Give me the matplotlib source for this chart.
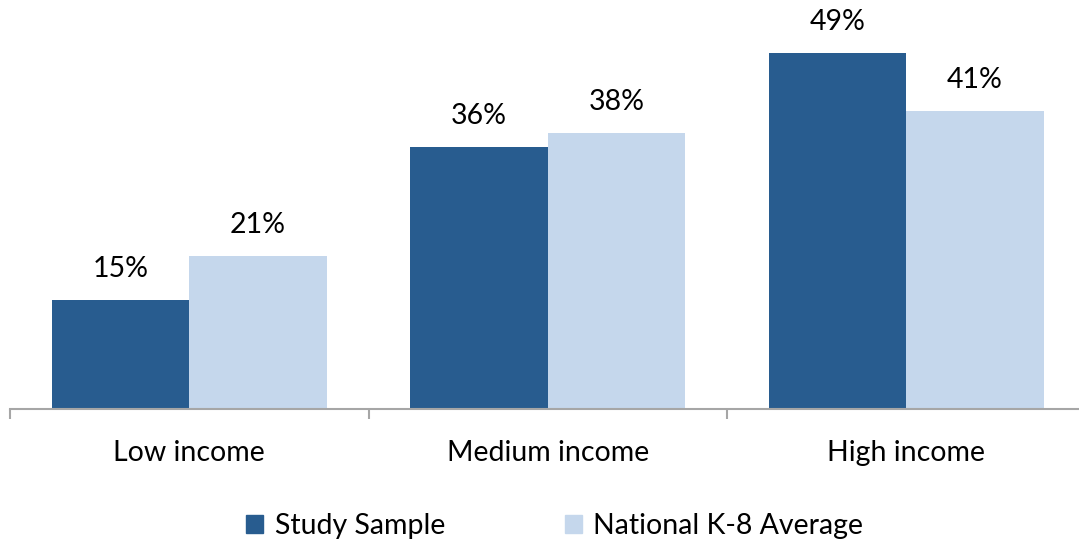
import numpy as np
import matplotlib.pyplot as plt
from matplotlib.patches import Patch

plt.rcParams['font.family'] = ['Lato', 'DejaVu Sans']

categorias = ['Low income', 'Medium income', 'High income']
amostra = [15, 36, 49]
nacional = [21, 38, 41]
series = ['Study Sample', 'National K-8 Average']

cor_escura = '#285C8F'
cor_clara = '#C5D7EC'

fig = plt.figure(figsize=(10.79, 5.46), dpi=100)
ax = fig.add_axes([10/1079, 137/546, 1075.5/1079, 409/546])

x = np.arange(len(categorias))
w = 0.384
b1 = ax.bar(x - w/2, amostra, w, color=cor_escura)
b2 = ax.bar(x + w/2, nacional, w, color=cor_clara)

for barras, vals in ((b1, amostra), (b2, nacional)):
    for r, v in zip(barras, vals):
        ax.annotate(f'{v}%', (r.get_x() + r.get_width()/2, r.get_height()),
                    xytext=(0, 13), textcoords='offset points',
                    ha='center', va='bottom', fontsize=20.5)

ax.set_xlim(-0.5, 2.5)
ax.set_ylim(0, 56.3)
for s in ('top', 'right', 'left'):
    ax.spines[s].set_visible(False)
ax.spines['bottom'].set_color('#A6A6A6')
ax.spines['bottom'].set_linewidth(1.5)
ax.set_yticks([])
ax.set_xticks(x)
ax.set_xticklabels(categorias, fontsize=20.5)
ax.tick_params(axis='x', which='major', length=0, pad=22)
ax.set_xticks([-0.5, 0.5, 1.5, 2.5], minor=True)
ax.tick_params(axis='x', which='minor', length=7, width=1.5,
               color='#A6A6A6', direction='out')

alcas = [Patch(color=cor_escura), Patch(color=cor_clara)]
fig.legend(alcas, series, loc='center', bbox_to_anchor=(0.514, 0.037),
           ncol=2, frameon=False, fontsize=20.5, handlelength=0.6,
           handleheight=0.6, handletextpad=0.4, columnspacing=4.2)

fig.savefig('out.png', dpi=100)
